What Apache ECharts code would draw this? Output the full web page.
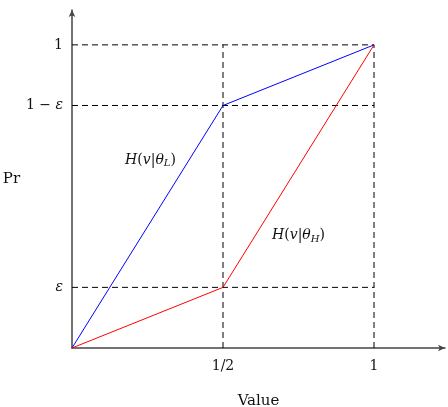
<!DOCTYPE html>
<html><head><meta charset="utf-8">
<script src="https://cdn.jsdelivr.net/npm/echarts@6/dist/echarts.min.js"></script>
<style>html,body{margin:0;padding:0;background:#fff}#c{width:448px;height:407px}</style>
</head><body><div id="c"></div>
<script>
const eps = 0.2;
const xTicks = [0.5, 1];
const xTickLabels = ['1/2', '1'];
const yTicks = [eps, 1 - eps, 1];
const yTickLabels = ['{i|ε}', '{n|1 − }{i|ε}', '{n|1}'];
const lowType = [[0, 0], [0.5, 1 - eps], [1, 1]];
const highType = [[0, 0], [0.5, eps], [1, 1]];
const guides = [
  [[0, 1], [1, 1]],
  [[0, 1 - eps], [1, 1 - eps]],
  [[0, eps], [1, eps]],
  [[0.5, 0], [0.5, 1]],
  [[1, 0], [1, 1]]
];
const lowLabelPos = [0.26, 0.62];
const highLabelPos = [0.75, 0.37];

const FONT = 'DejaVu Serif';
const C = '#111';
const rich = {
  n: {fontFamily: FONT, fontSize: 14, color: C},
  i: {fontFamily: FONT, fontSize: 14, fontStyle: 'italic', color: C},
  s: {fontFamily: FONT, fontSize: 10, fontStyle: 'italic', color: C, padding: [7, 0, 0, 0]}
};
const chart = echarts.init(document.getElementById('c'));
const series = [];
guides.forEach(g => series.push({
  type: 'line', data: g, symbol: 'none', silent: true,
  lineStyle: {color: '#000', width: 1, type: [6, 4]}
}));
series.push({type: 'line', data: lowType, symbol: 'none', lineStyle: {color: '#0000ff', width: 1}});
series.push({type: 'line', data: highType, symbol: 'none', lineStyle: {color: '#ff0000', width: 1}});
const lbl = f => ({show: true, position: 'inside', color: C, opacity: 1, textBorderWidth: 0, formatter: f, rich});
series.push({type: 'scatter', symbolSize: 0, silent: true, data: [lowLabelPos],
  itemStyle: {opacity: 1}, label: lbl('{i|H}{n|(}{i|v}{n||}{i|θ}{s|L}{n|)}')});
series.push({type: 'scatter', symbolSize: 0, silent: true, data: [highLabelPos],
  itemStyle: {opacity: 1}, label: lbl('{i|H}{n|(}{i|v}{n||}{i|θ}{s|H}{n|)}')});

chart.setOption({
  animation: false,
  grid: {left: 72, right: 3, top: 10, bottom: 59, outerBoundsMode: 'none', containLabel: false},
  xAxis: {
    type: 'value', min: 0, max: 1.235,
    splitLine: {show: false},
    axisLine: {lineStyle: {color: '#444', width: 1.5}, symbol: ['none', 'arrow'], symbolSize: [5, 7]},
    axisTick: {show: false},
    axisLabel: {customValues: xTicks, formatter: v => xTickLabels[xTicks.indexOf(v)], fontFamily: FONT, fontSize: 14, color: C, margin: 11},
    name: 'Value', nameLocation: 'middle', nameGap: 46,
    nameTextStyle: {fontFamily: FONT, fontSize: 15, color: C}
  },
  yAxis: {
    type: 'value', min: 0, max: 1.115,
    splitLine: {show: false},
    axisLine: {lineStyle: {color: '#444', width: 1.5}, symbol: ['none', 'arrow'], symbolSize: [5, 7]},
    axisTick: {show: false},
    axisLabel: {customValues: yTicks, formatter: v => yTickLabels[yTicks.findIndex(t => Math.abs(t - v) < 1e-9)], rich, margin: 9},
    name: 'Pr', nameLocation: 'middle', nameGap: 40, nameRotate: 0,
    nameTextStyle: {fontFamily: FONT, fontSize: 15, color: C, align: 'right'}
  },
  series
});
</script></body></html>
